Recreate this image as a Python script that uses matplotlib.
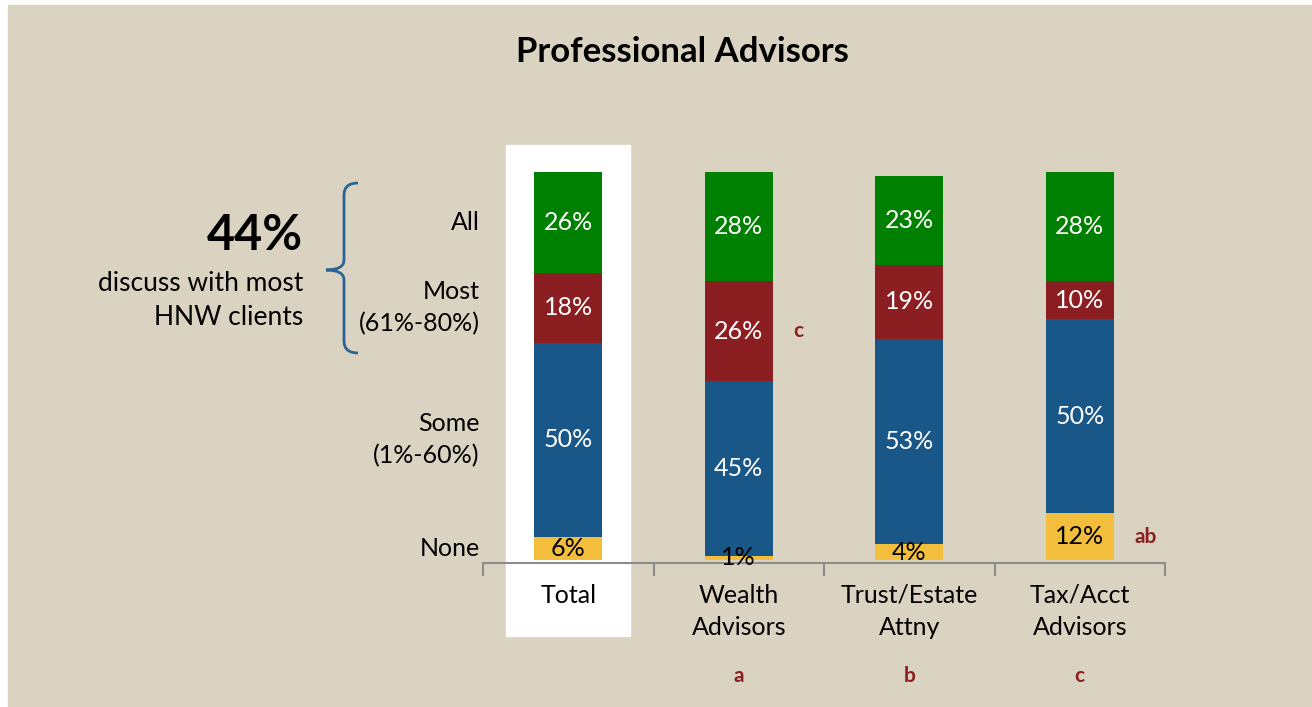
import numpy as np
import matplotlib.pyplot as plt
from matplotlib.patches import Rectangle, PathPatch
from matplotlib.path import Path

plt.rcParams['font.family'] = ['Lato', 'DejaVu Sans']

categories = ['Total', 'Wealth\nAdvisors', 'Trust/Estate\nAttny', 'Tax/Acct\nAdvisors']
group_letters = ['', 'a', 'b', 'c']
levels = ['None', 'Some\n(1%-60%)', 'Most\n(61%-80%)', 'All']
none_vals = [6, 1, 4, 12]
some_vals = [50, 45, 53, 50]
most_vals = [18, 26, 19, 10]
all_vals = [26, 28, 23, 28]
series = [none_vals, some_vals, most_vals, all_vals]
colors = ['#F2BE3C', '#185788', '#8B1E20', '#008000']
text_colors = ['black', 'white', 'white', 'white']
# significance letters: (category index, level index, text)
sig_marks = [(1, 2, 'c'), (3, 0, 'ab')]

W, H = 1312, 707
bg = '#DAD3C1'
dark_red = '#8B1E20'

def px(x, y):
    return x / W, 1 - y / H

fig = plt.figure(figsize=(13.12, 7.07), dpi=100, facecolor='white')
fig.patches.append(Rectangle(px(8, 707), (W - 8) / W, (707 - 5) / H,
                             transform=fig.transFigure, color=bg, zorder=-10))

l, b = px(483, 563)
r, t = px(1165, 172)
ax = fig.add_axes([l, b, r - l, t - b])
ax.set_facecolor('none')
x = np.arange(len(categories))
ax.set_xlim(-0.5, 3.5)
ax.set_ylim(-0.8, 100)

# white panel behind Total
ax.add_patch(Rectangle((-0.364, -19.5), 0.728, 126.5, color='white',
                       clip_on=False, zorder=0))

bottom = np.zeros(len(categories))
for vals, c, tc in zip(series, colors, text_colors):
    vals = np.array(vals)
    ax.bar(x, vals, 0.4, bottom=bottom, color=c, zorder=2)
    for xi, v, b0 in zip(x, vals, bottom):
        ax.text(xi, b0 + v / 2, f'{v}%', ha='center', va='center',
                color=tc, fontsize=18, zorder=3)
    bottom += vals

# row labels next to Total
cum = 0
for lab, vals in zip(levels, series):
    ax.text(-0.52, cum + vals[0] / 2, lab, ha='right', va='center',
            fontsize=18, linespacing=1.5)
    cum += vals[0]

for ci, li, s in sig_marks:
    base = sum(series[k][ci] for k in range(li))
    ax.text(ci + 0.32, base + series[li][ci] / 2, s, ha='left', va='center',
            color=dark_red, fontsize=15, fontweight='bold')

for xi, s in zip(x, group_letters):
    ax.text(xi, -30, s, ha='center', va='center', color=dark_red,
            fontsize=15, fontweight='bold')

ax.set_xticks(x)
ax.set_xticklabels(categories, fontsize=18, linespacing=1.5)
ax.set_xticks(np.arange(-0.5, 4, 1), minor=True)
ax.tick_params(axis='x', which='major', length=0, pad=15)
ax.tick_params(axis='x', which='minor', length=9, width=1.5, color='#8C8C8C')
ax.set_yticks([])
for s in ['left', 'right', 'top']:
    ax.spines[s].set_visible(False)
ax.spines['bottom'].set_color('#8C8C8C')
ax.spines['bottom'].set_linewidth(1.5)

fig.text(*px(682, 52), 'Professional Advisors', ha='center', va='center',
         fontsize=25, fontweight='bold')
fig.text(*px(303, 236), '44%', ha='right', va='center', fontsize=35,
         fontweight='bold')
fig.text(*px(303, 301), 'discuss with most\nHNW clients', ha='right',
         va='center', fontsize=19, linespacing=1.45)

# curly brace
pts = [(358, 183), (344, 183), (344, 195), (344, 260), (344, 270), (326, 270),
       (344, 270), (344, 280), (344, 341), (344, 353), (358, 353)]
codes = [Path.MOVETO, Path.CURVE3, Path.CURVE3, Path.LINETO, Path.CURVE3,
         Path.CURVE3, Path.CURVE3, Path.CURVE3, Path.LINETO, Path.CURVE3,
         Path.CURVE3]
brace = Path([px(*p) for p in pts], codes)
fig.patches.append(PathPatch(brace, transform=fig.transFigure, fill=False,
                             edgecolor='#2A6496', linewidth=2))

fig.savefig('out.png', dpi=100, facecolor=fig.get_facecolor())
